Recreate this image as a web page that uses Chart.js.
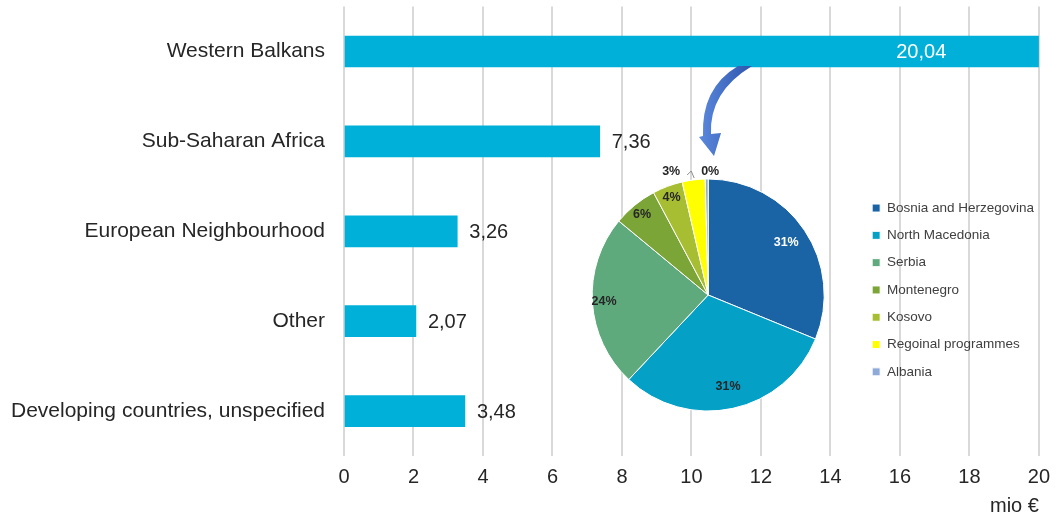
<!DOCTYPE html>
<html>
<head>
<meta charset="utf-8">
<script src="https://cdn.jsdelivr.net/npm/chart.js@4"></script>
<style>
html, body { margin: 0; padding: 0; background: #fff; }
#wrap { position: relative; width: 1059px; height: 519px; overflow: hidden; }
#bar-chart { position: absolute; left: 0; top: -17px; }
#pie-chart { position: absolute; left: 554px; top: 150px; }
</style>
</head>
<body>
<div id="wrap">
  <canvas id="bar-chart" width="1059" height="536"></canvas>
  <canvas id="pie-chart" width="490" height="290"></canvas>
</div>
<script>
var regions = ["Western Balkans", "Sub-Saharan Africa", "European Neighbourhood", "Other", "Developing countries, unspecified"];
var amounts = [20.04, 7.36, 3.26, 2.07, 3.48];
var xTicks = [0, 2, 4, 6, 8, 10, 12, 14, 16, 18, 20];

var pieLabels = ["Bosnia and Herzegovina", "North Macedonia", "Serbia", "Montenegro", "Kosovo", "Regoinal programmes", "Albania"];
var pieShares = [31.2, 30.8, 24.0, 6.2, 4.2, 3.2, 0.4];
var pieColors = ["#1a64a6", "#04a0c6", "#5faa7d", "#7ca537", "#a7be33", "#ffff00", "#8eaad8"];

var fam = '"Liberation Sans", Arial, sans-serif';
var barCanvasShift = 17; // bar canvas sits 17px above the page top

// value labels on bars + the curved arrow towards the pie
var barLabels = {
  id: 'barLabels',
  afterDatasetsDraw: function(chart) {
    var ctx = chart.ctx;
    var meta = chart.getDatasetMeta(0);
    ctx.save();
    ctx.font = '20px ' + fam;
    ctx.textBaseline = 'middle';
    meta.data.forEach(function(bar, i) {
      var txt = amounts[i].toFixed(2).replace('.', ',');
      if (amounts[i] > 15) {
        ctx.fillStyle = '#fff';
        ctx.textAlign = 'center';
        ctx.fillText(txt, bar.x - 119, bar.y + 1);
      } else {
        ctx.fillStyle = '#262626';
        ctx.textAlign = 'left';
        ctx.fillText(txt, bar.x + 12, bar.y + 1);
      }
    });

    // arrow (page coordinates)
    ctx.translate(0, barCanvasShift);
    var g = ctx.createLinearGradient(700, 0, 755, 0);
    g.addColorStop(0, '#5a88dc');
    g.addColorStop(1, '#2a52aa');
    ctx.fillStyle = g;
    ctx.beginPath();
    ctx.moveTo(738, 66);
    ctx.quadraticCurveTo(701, 88, 703, 136);
    ctx.lineTo(699, 137);
    ctx.lineTo(714, 156);
    ctx.lineTo(721, 133);
    ctx.lineTo(711, 134);
    ctx.quadraticCurveTo(709, 92, 752, 66);
    ctx.closePath();
    ctx.fill();
    ctx.restore();
  }
};

new Chart(document.getElementById('bar-chart'), {
  type: 'bar',
  data: {
    labels: regions,
    datasets: [{
      data: amounts,
      backgroundColor: '#00b0d8',
      barThickness: 31
    }]
  },
  options: {
    indexAxis: 'y',
    responsive: false,
    animation: false,
    layout: { padding: { top: 6, right: 17, left: 0, bottom: 0 } },
    plugins: { legend: { display: false }, tooltip: { enabled: false } },
    scales: {
      x: {
        min: xTicks[0],
        max: xTicks[xTicks.length - 1],
        ticks: { stepSize: 2, padding: 9, color: '#262626', font: { size: 20, family: fam } },
        grid: { color: '#d9d9d9', lineWidth: 2, drawTicks: false },
        border: { display: false },
        title: { display: true, text: 'mio €', align: 'end', color: '#262626', font: { size: 20, family: fam }, padding: { top: 0, bottom: 1 } },
        afterFit: function(s) { s.height = 63; }
      },
      y: {
        ticks: { padding: 11, color: '#262626', font: { size: 21, family: fam } },
        grid: { display: false },
        border: { display: false },
        afterFit: function(s) { s.width = 344; }
      }
    }
  },
  plugins: [barLabels]
});

// percentage labels on the pie
var pieText = {
  id: 'pieText',
  afterDatasetsDraw: function(chart) {
    var ctx = chart.ctx;
    var meta = chart.getDatasetMeta(0);
    ctx.save();
    ctx.font = 'bold 12.5px ' + fam;
    ctx.textAlign = 'center';
    ctx.textBaseline = 'middle';
    var cx = 0, cy = 0, R = 0;
    meta.data.forEach(function(arc, i) {
      var share = pieShares[i];
      var txt = Math.round(share) + '%';
      var mid = (arc.startAngle + arc.endAngle) / 2;
      cx = arc.x; cy = arc.y; R = arc.outerRadius;
      var x, y;
      if (share >= 4) {
        var f = share > 25 ? 0.81 : 0.9;
        x = cx + Math.cos(mid) * R * f;
        y = cy + Math.sin(mid) * R * f;
      } else {
        y = cy - R - 7;
        x = (i === pieShares.length - 1) ? cx + 2 : cx - 37;
      }
      ctx.fillStyle = i === 0 ? '#fff' : '#262626';
      ctx.fillText(txt, x, y);
    });
    // leader line for the tiny slice
    ctx.strokeStyle = '#8c8c8c';
    ctx.lineWidth = 1;
    ctx.beginPath();
    ctx.moveTo(cx - 21, cy - R - 4);
    ctx.lineTo(cx - 17, cy - R - 8);
    ctx.lineTo(cx - 14, cy - R - 1);
    ctx.stroke();
    ctx.restore();
  }
};

new Chart(document.getElementById('pie-chart'), {
  type: 'pie',
  data: {
    labels: pieLabels,
    datasets: [{
      data: pieShares,
      backgroundColor: pieColors,
      borderColor: '#ffffff',
      borderWidth: 1,
      clip: false
    }]
  },
  options: {
    responsive: false,
    animation: false,
    radius: 116,
    layout: { padding: { left: 4, right: 0, top: 37.5, bottom: 37.5 } },
    plugins: {
      legend: {
        position: 'right',
        align: 'start',
        labels: { boxWidth: 8, boxHeight: 8, padding: 13.8, color: '#404040', font: { size: 13.5, family: fam } }
      },
      tooltip: { enabled: false }
    }
  },
  plugins: [pieText]
});
</script>
</body>
</html>
